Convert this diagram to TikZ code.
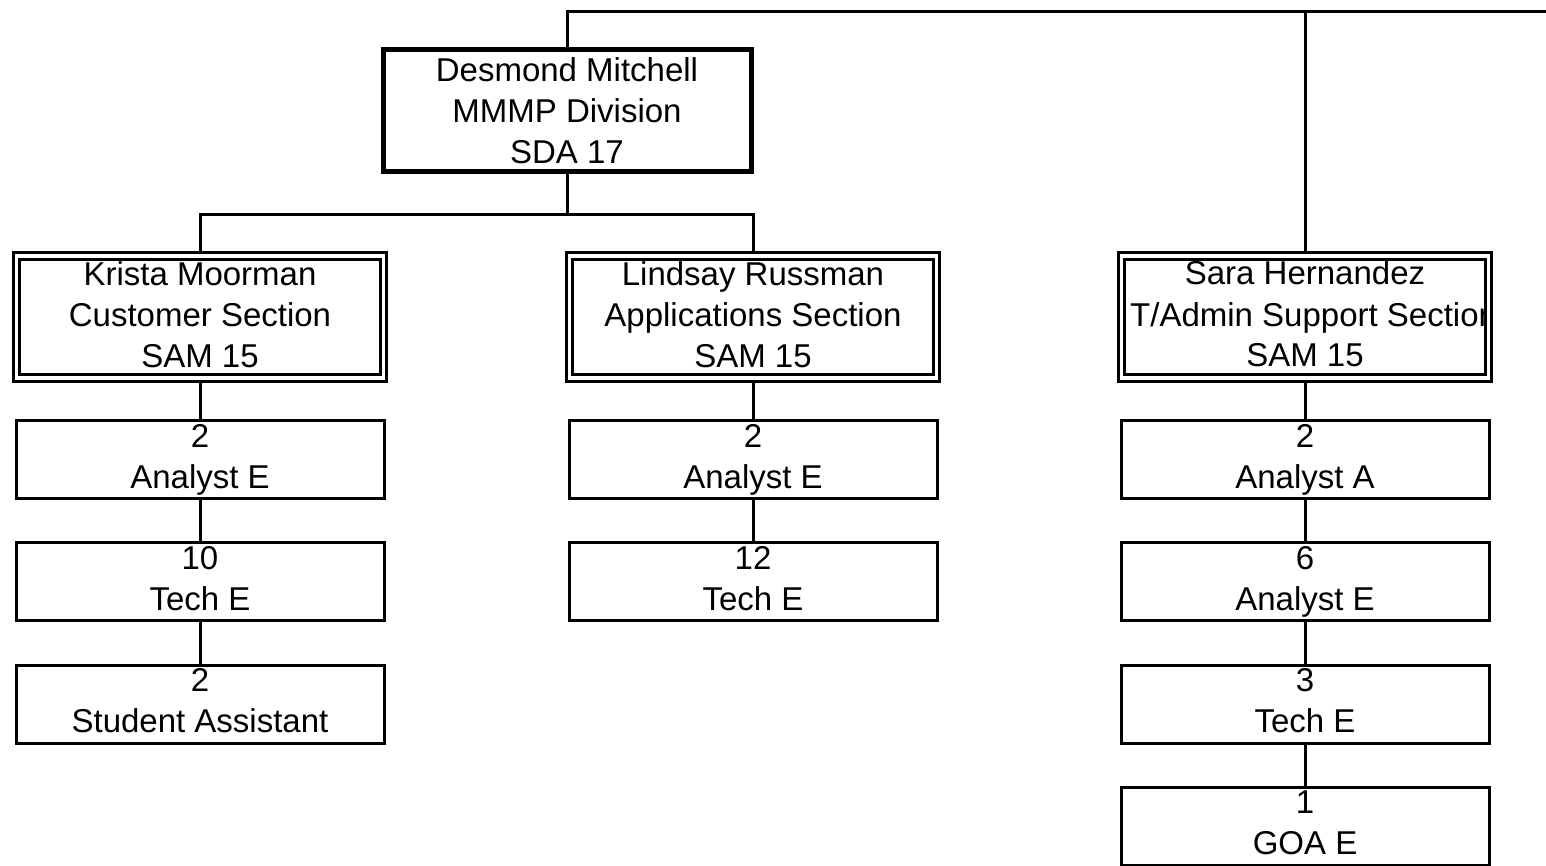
\documentclass[tikz,border=0pt]{standalone}
\usepackage{fontspec}
\setmainfont{Liberation Sans}
\begin{document}
\begin{tikzpicture}[x=1pt,y=-1pt,
  conn/.style={line width=3pt},
  topbox/.style={draw, line width=5pt, minimum width=368pt, minimum height=122pt, inner sep=0pt},
  secbox/.style={draw, line width=3.3pt, double, double distance=3.3pt, minimum width=367pt, minimum height=122pt, inner sep=0pt},
  posbox/.style={draw, line width=3pt, minimum width=368pt, minimum height=78pt, inner sep=0pt},
  lbl/.style={align=center, font=\fontsize{33}{41}\selectfont, inner sep=0pt}
]
\useasboundingbox (0,0) rectangle (1546,865);
\coordinate (topR) at (1546,11);
% boxes
\node[topbox] (dm) at (567,110.5) {};
\node[secbox] (km) at (200,317) {};
\node[secbox] (lr) at (753,317) {};
\node[secbox] (sh) at (1305,317) {};
\node[posbox] (k1) at (200,459.5) {};
\node[posbox] (k2) at (200,581.5) {};
\node[posbox] (k3) at (200,704) {};
\node[posbox] (l1) at (753,459.5) {};
\node[posbox] (l2) at (753,581.5) {};
\node[posbox] (s1) at (1305,459.5) {};
\node[posbox] (s2) at (1305,581.5) {};
\node[posbox] (s3) at (1305,704) {};
\node[posbox] (s4) at (1305,826) {};
% texts
\node[lbl] (tdm) at (567,114) {Desmond Mitchell\strut\\MMMP Division\strut\\SDA 17\strut};
\node[lbl] (tkm) at (200,318) {Krista Moorman\strut\\Customer Section\strut\\SAM 15\strut};
\node[lbl] (tlr) at (753,318) {Lindsay Russman\strut\\Applications Section\strut\\SAM 15\strut};
\node[lbl] (tsh1) at (1305,276.6) {Sara Hernandez\strut};
\begin{scope}
\clip (1126,261) rectangle (1484,373);
\node[lbl, anchor=west] (tsh2) at (1130,318.6) {T/Admin Support Section\strut};
\end{scope}
\node[lbl] (tsh3) at (1305,358.6) {SAM 15\strut};
\node[lbl] (tk1) at (200,459.5) {2\strut\\Analyst E\strut};
\node[lbl] (tk2) at (200,581.5) {10\strut\\Tech E\strut};
\node[lbl] (tk3) at (200,704) {2\strut\\Student Assistant\strut};
\node[lbl] (tl1) at (753,459.5) {2\strut\\Analyst E\strut};
\node[lbl] (tl2) at (753,581.5) {12\strut\\Tech E\strut};
\node[lbl] (ts1) at (1305,459.5) {2\strut\\Analyst A\strut};
\node[lbl] (ts2) at (1305,581.5) {6\strut\\Analyst E\strut};
\node[lbl] (ts3) at (1305,704) {3\strut\\Tech E\strut};
\node[lbl] (ts4) at (1305,826) {1\strut\\GOA E\strut};
% connectors
\draw[conn] (dm.north) |- (topR);
\draw[conn] (sh.north) -- (sh.north |- topR);
\coordinate (br) at (567,214);
\draw[conn] (dm.south) -- (br);
\draw[conn] (br) -| (km.north);
\draw[conn] (br) -| (lr.north);
\draw[conn] (km.south) -- (k1.north);
\draw[conn] (k1.south) -- (k2.north);
\draw[conn] (k2.south) -- (k3.north);
\draw[conn] (lr.south) -- (l1.north);
\draw[conn] (l1.south) -- (l2.north);
\draw[conn] (sh.south) -- (s1.north);
\draw[conn] (s1.south) -- (s2.north);
\draw[conn] (s2.south) -- (s3.north);
\draw[conn] (s3.south) -- (s4.north);
\end{tikzpicture}
\end{document}
